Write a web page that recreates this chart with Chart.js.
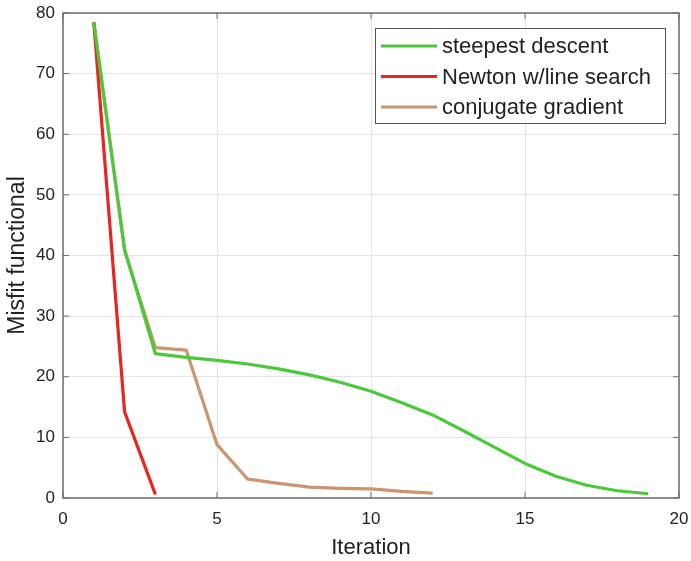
<!DOCTYPE html>
<html>
<head>
<meta charset="utf-8">
<script src="https://cdn.jsdelivr.net/npm/chart.js@4"></script>
<style>
  html, body { margin: 0; padding: 0; background: #fff; }
  #wrap { width: 691px; height: 561px; }
</style>
</head>
<body>
<div id="wrap"><canvas id="grafico"></canvas></div>
<script>
// dados
const seriesNames = ['steepest descent', 'Newton w/line search', 'conjugate gradient'];
const steepestX = [1, 2, 3, 4, 5, 6, 7, 8, 9, 10, 11, 12, 13, 14, 15, 16, 17, 18, 19];
const steepestY = [78.5, 41, 23.8, 23.2, 22.7, 22.1, 21.3, 20.3, 19.1, 17.6, 15.7, 13.7, 11.1, 8.4, 5.7, 3.6, 2.1, 1.2, 0.7];
const newtonX = [1, 2, 3];
const newtonY = [78.5, 14.2, 0.6];
const conjX = [1, 2, 3, 4, 5, 6, 7, 8, 9, 10, 11, 12];
const conjY = [78.5, 40.8, 24.8, 24.4, 8.8, 3.1, 2.4, 1.8, 1.6, 1.5, 1.1, 0.8];
const xTicks = [0, 5, 10, 15, 20];
const yTicks = [0, 10, 20, 30, 40, 50, 60, 70, 80];

const cores = ['#4cc83c', '#e8251f', '#c9966f'];
const fonte = '"Liberation Sans", Arial, Helvetica, sans-serif';

function pontos(xs, ys) {
  return xs.map((x, i) => ({ x: x, y: ys[i] }));
}

// caixa do eixo, marcas internas e legenda no estilo MATLAB
const estiloMatlab = {
  id: 'estiloMatlab',
  afterDraw(chart) {
    const ctx = chart.ctx;
    const a = chart.chartArea;
    const sx = chart.scales.x, sy = chart.scales.y;
    ctx.save();
    ctx.strokeStyle = '#6e6e6e';
    ctx.lineWidth = 1.5;
    ctx.strokeRect(a.left, a.top, a.right - a.left, a.bottom - a.top);
    ctx.lineWidth = 1;
    xTicks.forEach(v => {
      const p = sx.getPixelForValue(v);
      ctx.beginPath();
      ctx.moveTo(p, a.bottom); ctx.lineTo(p, a.bottom - 6);
      ctx.moveTo(p, a.top); ctx.lineTo(p, a.top + 6);
      ctx.stroke();
    });
    yTicks.forEach(v => {
      const p = sy.getPixelForValue(v);
      ctx.beginPath();
      ctx.moveTo(a.left, p); ctx.lineTo(a.left + 6, p);
      ctx.moveTo(a.right, p); ctx.lineTo(a.right - 6, p);
      ctx.stroke();
    });

    // legenda
    const lx = 375, ly = 28, lw = 290, lh = 95;
    ctx.fillStyle = '#fff';
    ctx.fillRect(lx, ly, lw, lh);
    ctx.strokeStyle = '#555';
    ctx.lineWidth = 1;
    ctx.strokeRect(lx + 0.5, ly + 0.5, lw, lh);
    ctx.font = '22px ' + fonte;
    ctx.textBaseline = 'middle';
    seriesNames.forEach((nome, i) => {
      const y = ly + 18 + i * 30.5;
      ctx.strokeStyle = cores[i];
      ctx.lineWidth = 3;
      ctx.beginPath();
      ctx.moveTo(lx + 6, y); ctx.lineTo(lx + 62, y);
      ctx.stroke();
      ctx.fillStyle = '#222';
      ctx.fillText(nome, lx + 67, y + 1);
    });
    ctx.restore();
  }
};

const ctx = document.getElementById('grafico').getContext('2d');
new Chart(ctx, {
  type: 'line',
  data: {
    datasets: [
      { label: seriesNames[0], data: pontos(steepestX, steepestY), borderColor: cores[0] },
      { label: seriesNames[1], data: pontos(newtonX, newtonY), borderColor: cores[1] },
      { label: seriesNames[2], data: pontos(conjX, conjY), borderColor: cores[2] }
    ].map(d => Object.assign(d, { borderWidth: 3.2, pointRadius: 0, tension: 0, fill: false, borderJoinStyle: 'round' }))
  },
  options: {
    responsive: true,
    maintainAspectRatio: false,
    animation: false,
    layout: { padding: { top: 13, right: 12, left: 0, bottom: 0 } },
    plugins: { legend: { display: false }, tooltip: { enabled: false } },
    scales: {
      x: {
        type: 'linear',
        min: 0, max: 20,
        afterBuildTicks: s => { s.ticks = xTicks.map(v => ({ value: v })); },
        afterFit: s => { s.height = 63; s.paddingLeft = 0; s.paddingRight = 0; },
        grid: { color: '#e4e4e4', drawTicks: false },
        border: { display: false },
        ticks: { color: '#222', font: { family: fonte, size: 17 }, padding: 11, maxRotation: 0 },
        title: { display: true, text: 'Iteration', color: '#222', font: { family: fonte, size: 22 }, padding: { top: 0, bottom: 0 } }
      },
      y: {
        min: 0, max: 80,
        afterBuildTicks: s => { s.ticks = yTicks.map(v => ({ value: v })); },
        afterFit: s => { s.width = 63; s.paddingTop = 0; s.paddingBottom = 0; },
        grid: { color: '#e4e4e4', drawTicks: false },
        border: { display: false },
        ticks: { color: '#222', font: { family: fonte, size: 17 }, padding: 8 },
        title: { display: true, text: 'Misfit functional', color: '#222', font: { family: fonte, size: 23 }, padding: { top: 4, bottom: 0 } }
      }
    }
  },
  plugins: [estiloMatlab]
});
</script>
</body>
</html>
